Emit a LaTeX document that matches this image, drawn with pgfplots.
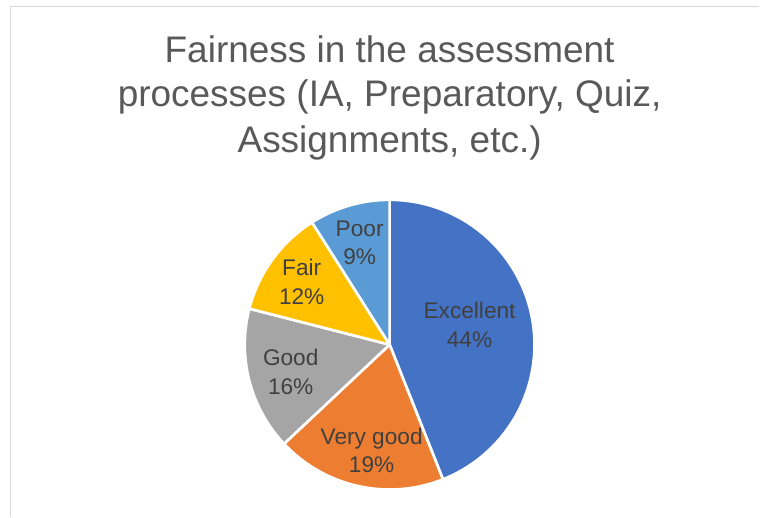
\documentclass[border=0pt]{standalone}
\usepackage{pgfplots}
\pgfplotsset{compat=1.18}
\usepackage{pgfplotstable}
\usepackage{fontspec}
\setmainfont{Liberation Sans}
\definecolor{xlBlue}{HTML}{4472C4}
\definecolor{xlOrange}{HTML}{ED7D31}
\definecolor{xlGray}{HTML}{A5A5A5}
\definecolor{xlGold}{HTML}{FFC000}
\definecolor{xlLight}{HTML}{5B9BD5}
\definecolor{titlegray}{HTML}{595959}
\definecolor{labelgray}{HTML}{404040}
\definecolor{framegray}{HTML}{D9D9D9}
% share of each answer (percent)
\pgfplotstableread{
label      value
Excellent  44
Verygood   19
Good       16
Fair       12
Poor       9
}\piedata
\begin{document}
\begin{tikzpicture}
\begin{axis}[
  scale only axis, width=570pt, height=387.75pt,
  xmin=0, xmax=760, ymin=0, ymax=517,
  hide axis, clip=false,
]
\path (axis cs:0,0) rectangle (axis cs:760,517);
\draw[framegray, line width=1.1pt] (axis cs:10.5,0) -- (axis cs:10.5,510.5) -- (axis cs:760,510.5);
% slices: start at 12 o'clock, clockwise; angle = 3.6 * value
% Excellent 44 -> 90 .. -68.4
\addplot[fill=xlBlue, draw=white, line width=2pt, line join=round, domain=-68.4:90, samples=90, variable=\t]
  ({390+145*cos(\t)}, {172+145*sin(\t)}) -- (axis cs:390,172) -- cycle;
% Very good 19 -> -68.4 .. -136.8
\addplot[fill=xlOrange, draw=white, line width=2pt, line join=round, domain=-136.8:-68.4, samples=50, variable=\t]
  ({390+145*cos(\t)}, {172+145*sin(\t)}) -- (axis cs:390,172) -- cycle;
% Good 16 -> -136.8 .. -194.4
\addplot[fill=xlGray, draw=white, line width=2pt, line join=round, domain=-194.4:-136.8, samples=45, variable=\t]
  ({390+145*cos(\t)}, {172+145*sin(\t)}) -- (axis cs:390,172) -- cycle;
% Fair 12 -> -194.4 .. -237.6
\addplot[fill=xlGold, draw=white, line width=2pt, line join=round, domain=-237.6:-194.4, samples=35, variable=\t]
  ({390+145*cos(\t)}, {172+145*sin(\t)}) -- (axis cs:390,172) -- cycle;
% Poor 9 -> -237.6 .. -270
\addplot[fill=xlLight, draw=white, line width=2pt, line join=round, domain=-270:-237.6, samples=30, variable=\t]
  ({390+145*cos(\t)}, {172+145*sin(\t)}) -- (axis cs:390,172) -- cycle;
% title
\begin{scope}[every node/.style={anchor=base, text=titlegray, font=\fontsize{27.75}{33}\selectfont, inner sep=0pt}]
\node at (axis cs:390,454) {Fairness in the assessment};
\node at (axis cs:390,410) {processes (IA, Preparatory, Quiz,};
\node at (axis cs:390,364) {Assignments, etc.)};
\end{scope}
% data labels
\begin{scope}[every node/.style={anchor=base, text=labelgray, font=\fontsize{17}{20}\selectfont, inner sep=0pt}]
\node at (axis cs:470,198) {Excellent};
\node at (axis cs:470,169) {44\%};
\node at (axis cs:372,72) {Very good};
\node at (axis cs:372,44) {19\%};
\node at (axis cs:291,151) {Good};
\node at (axis cs:291,122) {16\%};
\node at (axis cs:302,241) {Fair};
\node at (axis cs:302,212) {12\%};
\node at (axis cs:360,280) {Poor};
\node at (axis cs:360,252) {9\%};
\end{scope}
\end{axis}
\end{tikzpicture}
\end{document}
